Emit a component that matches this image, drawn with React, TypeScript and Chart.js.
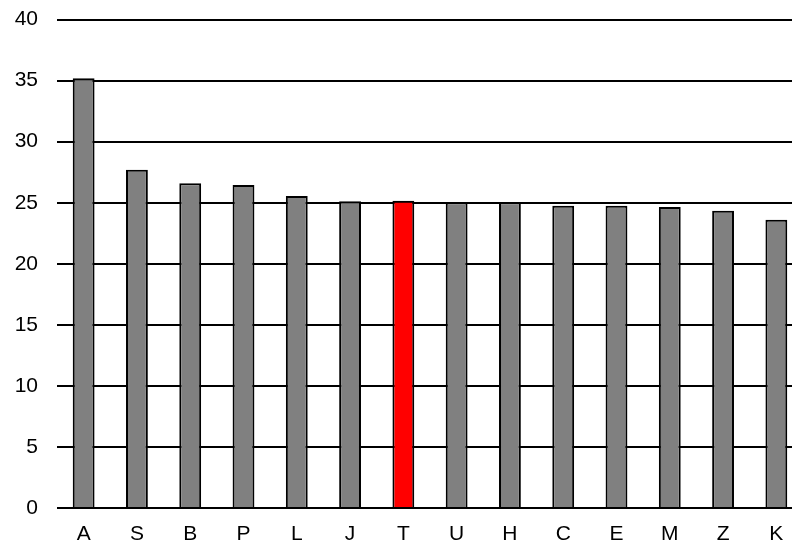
import React, { useEffect, useRef } from "react";
import { Chart, registerables } from "chart.js";

Chart.register(...registerables);

const categories = ["A", "S", "B", "P", "L", "J", "T", "U", "H", "C", "E", "M", "Z", "K"];
const values = [35.2, 27.7, 26.6, 26.45, 25.55, 25.13, 25.16, 25.05, 25.05, 24.75, 24.75, 24.65, 24.35, 23.6];
const highlight = "T";
const yTicks = [0, 5, 10, 15, 20, 25, 30, 35, 40];

export default function App() {
  const ref = useRef<HTMLCanvasElement | null>(null);
  useEffect(() => {
    if (!ref.current) return;
    const colors = categories.map((c) => (c === highlight ? "#FF0000" : "#808080"));
    const font = { family: "'Liberation Sans', Arial, sans-serif", size: 21 };
    const chart = new Chart(ref.current, {
      type: "bar",
      data: {
        labels: categories,
        datasets: [
          {
            data: values,
            backgroundColor: colors,
            borderColor: "#000000",
            borderWidth: 2,
            barPercentage: 0.41,
            categoryPercentage: 1,
          },
        ],
      },
      options: {
        animation: false,
        responsive: false,
        devicePixelRatio: 1,
        layout: { padding: { top: 0, left: 0, right: 0, bottom: 0 } },
        plugins: { legend: { display: false }, tooltip: { enabled: false } },
        scales: {
          x: {
            grid: { display: false, drawTicks: false },
            border: { display: false },
            ticks: {
              color: "#000000",
              padding: 14,
              font,
              maxRotation: 0,
            },
            afterFit: (scale: any) => {
              scale.height = 38;
            },
          },
          y: {
            min: 0,
            max: 40,
            afterBuildTicks: (scale: any) => {
              scale.ticks = yTicks.map((v) => ({ value: v }));
            },
            grid: { color: "#000000", lineWidth: 2, drawTicks: false },
            border: { display: false },
            ticks: {
              color: "#000000",
              padding: 19,
              font,
            },
            afterFit: (scale: any) => {
              scale.width = 57;
            },
          },
        },
      },
    });
    return () => chart.destroy();
  }, []);
  return (
    <div style={{ position: "fixed", left: 0, top: 0, width: 792, height: 546, overflow: "hidden", background: "#fff" }}>
      <canvas
        ref={ref}
        width={803}
        height={558}
        style={{ display: "block", position: "absolute", left: 0, top: -12, width: 803, height: 558 }}
      />
    </div>
  );
}
